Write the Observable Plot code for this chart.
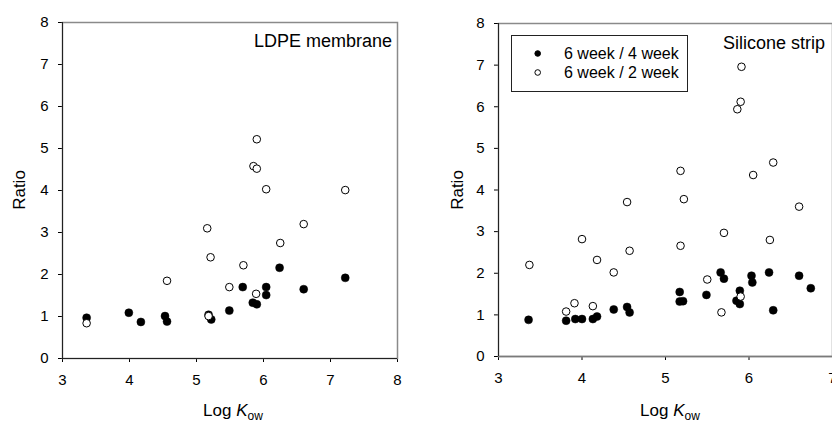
<!DOCTYPE html>
<html>
<head>
<meta charset="utf-8">
<script src="https://cdn.jsdelivr.net/npm/d3@7"></script>
<script src="https://cdn.jsdelivr.net/npm/@observablehq/plot@0.6"></script>
<style>
  html, body { margin: 0; padding: 0; background: #fff; }
  #wrap { position: relative; width: 832px; height: 426px; overflow: hidden; background: #fff; }
  #left, #right { position: absolute; top: 0; width: 420px; height: 426px; }
  #left { left: 0; }
  #right { left: 420px; }
  #wrap svg { max-width: none !important; }
</style>
</head>
<body>
<div id="wrap"><div id="left"></div><div id="right"></div></div>
<script>
// ---- data ----
const seriesNames = ["6 week / 4 week", "6 week / 2 week"];
const panelTitles = ["LDPE membrane", "Silicone strip"];
const yLabel = "Ratio";
const yTicks = [0, 1, 2, 3, 4, 5, 6, 7, 8];
const ldpeXTicks = [3, 4, 5, 6, 7, 8];
const siliXTicks = [3, 4, 5, 6, 7];

// LDPE membrane: 6 week / 4 week (filled)
const ldpe4x = [3.36, 3.99, 4.17, 4.53, 4.56, 5.18, 5.22, 5.49, 5.69, 5.84, 5.90, 6.04, 6.04, 6.24, 6.60, 7.22];
const ldpe4y = [0.97, 1.09, 0.87, 1.01, 0.88, 1.04, 0.93, 1.14, 1.70, 1.33, 1.29, 1.51, 1.70, 2.16, 1.65, 1.92];
// LDPE membrane: 6 week / 2 week (open)
const ldpe2x = [3.36, 4.56, 5.16, 5.21, 5.18, 5.49, 5.70, 5.85, 5.90, 5.90, 6.04, 5.89, 6.25, 6.60, 7.22];
const ldpe2y = [0.84, 1.85, 3.10, 2.41, 1.01, 1.70, 2.22, 4.58, 4.52, 5.22, 4.03, 1.54, 2.75, 3.20, 4.01];

// Silicone strip: 6 week / 4 week (filled)
const sili4x = [3.36, 3.81, 3.92, 4.00, 4.13, 4.18, 4.38, 4.54, 4.57, 5.17, 5.17, 5.21, 5.49, 5.66, 5.70, 5.85, 5.89, 5.89, 6.03, 6.04, 6.24, 6.29, 6.60, 6.74];
const sili4y = [0.88, 0.86, 0.90, 0.90, 0.90, 0.96, 1.13, 1.19, 1.06, 1.55, 1.32, 1.33, 1.48, 2.02, 1.87, 1.34, 1.58, 1.26, 1.94, 1.78, 2.02, 1.11, 1.94, 1.64];
// Silicone strip: 6 week / 2 week (open)
const sili2x = [3.37, 3.81, 3.91, 4.00, 4.13, 4.18, 4.38, 4.54, 4.57, 5.18, 5.18, 5.22, 5.50, 5.67, 5.70, 5.86, 5.90, 5.91, 5.90, 6.05, 6.25, 6.29, 6.60];
const sili2y = [2.20, 1.08, 1.28, 2.82, 1.21, 2.32, 2.02, 3.71, 2.54, 4.46, 2.66, 3.78, 1.85, 1.06, 2.97, 5.94, 6.12, 6.96, 1.44, 4.36, 2.80, 4.66, 3.60];

const FONT = "'Liberation Sans', Arial, Helvetica, sans-serif";
const toRows = (xs, ys) => xs.map((x, i) => ({x, y: ys[i]}));

function panel(o) {
  const filled = toRows(o.x4, o.y4);
  const open = toRows(o.x2, o.y2);
  return Plot.plot({
    width: o.width, height: 426,
    marginLeft: o.ml, marginRight: o.mr, marginTop: o.mt, marginBottom: o.mb,
    style: {fontFamily: FONT, fontSize: "15px", color: "#000", background: "transparent", overflow: "visible", maxWidth: "none"},
    x: {domain: o.xDomain, ticks: o.xTicks, tickSize: 4, tickPadding: 12, label: null, tickFormat: d => String(d)},
    y: {domain: [0, 8], ticks: yTicks, tickSize: 4, tickPadding: 10, label: null, tickFormat: d => String(d)},
    marks: [
      Plot.frame({stroke: "#8a8a8a", strokeWidth: 1.5}),
      Plot.ruleY([0], {stroke: o.bottomColor, strokeWidth: o.bottomWidth}),
      Plot.ruleX([o.xDomain[0]], {stroke: "#222", strokeWidth: 1}),
      Plot.dot(filled, {x: "x", y: "y", r: 4, fill: "#000", stroke: "#000", strokeWidth: 0.5}),
      Plot.dot(open, {x: "x", y: "y", r: 3.8, fill: "#fff", stroke: "#000", strokeWidth: 1})
    ]
  });
}

function addText(svg, opts) {
  const t = d3.select(svg).append("text")
    .attr("x", opts.x).attr("y", opts.y)
    .attr("text-anchor", opts.anchor || "start")
    .attr("font-family", FONT)
    .attr("font-size", opts.size)
    .attr("fill", "#000");
  if (opts.rotate) t.attr("transform", `rotate(-90 ${opts.x} ${opts.y})`);
  return t;
}

function addXLabel(svg, cx, y) {
  const t = addText(svg, {x: cx, y, anchor: "middle", size: 17});
  t.append("tspan").text("Log ");
  t.append("tspan").attr("font-style", "italic").text("K");
  t.append("tspan").attr("font-size", 12).attr("dy", 4).text("ow");
}

// Left panel
const leftSvg = panel({
  x4: ldpe4x, y4: ldpe4y, x2: ldpe2x, y2: ldpe2y,
  xDomain: [3, 8], xTicks: ldpeXTicks,
  width: 420, ml: 62, mr: 23, mt: 22, mb: 68,
  bottomColor: "#222", bottomWidth: 1
});
document.getElementById("left").appendChild(leftSvg);
addText(leftSvg, {x: 392, y: 46.5, anchor: "end", size: 18}).text(panelTitles[0]);
addText(leftSvg, {x: 25, y: 190, anchor: "middle", size: 17, rotate: true}).text(yLabel);
addXLabel(leftSvg, 233, 416);

// Right panel
const rightSvg = panel({
  x4: sili4x, y4: sili4y, x2: sili2x, y2: sili2y,
  xDomain: [3, 7], xTicks: siliXTicks,
  width: 420, ml: 78, mr: 8, mt: 23, mb: 70,
  bottomColor: "#7a7a7a", bottomWidth: 1.5
});
document.getElementById("right").appendChild(rightSvg);
addText(rightSvg, {x: 405, y: 49, anchor: "end", size: 18}).text(panelTitles[1]);
addText(rightSvg, {x: 42.5, y: 190, anchor: "middle", size: 17, rotate: true}).text(yLabel);
addXLabel(rightSvg, 250, 416);

// Legend (right panel)
const lg = d3.select(rightSvg).append("g");
lg.append("rect").attr("x", 91.5).attr("y", 35.5).attr("width", 176).attr("height", 56)
  .attr("fill", "#fff").attr("stroke", "#222").attr("stroke-width", 1);
const legendRows = [
  {name: seriesNames[0], fill: "#000", y: 53.5},
  {name: seriesNames[1], fill: "#fff", y: 72.5}
];
legendRows.forEach(r => {
  lg.append("circle").attr("cx", 117.7).attr("cy", r.y).attr("r", 2.8)
    .attr("fill", r.fill).attr("stroke", "#000").attr("stroke-width", 1);
  addText(rightSvg, {x: 144, y: r.y + 5.7, size: 16}).text(r.name);
});
</script>
</body>
</html>
